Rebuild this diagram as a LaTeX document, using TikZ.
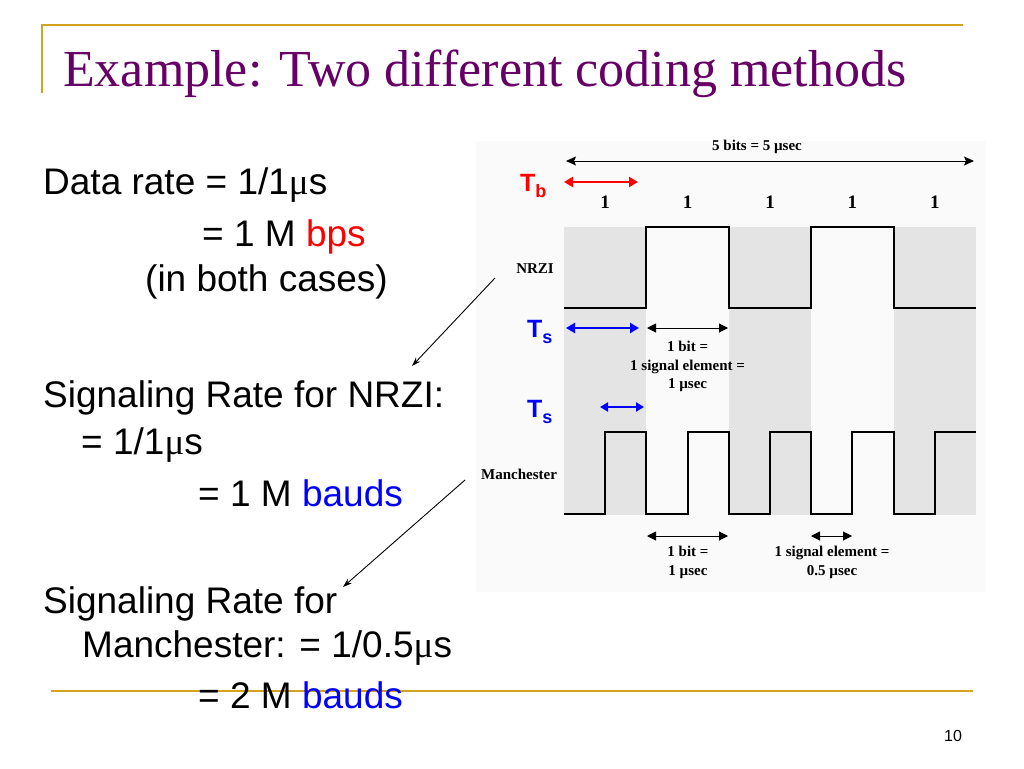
\documentclass[tikz,border=0pt]{standalone}
\usepackage{fontspec}
\setmainfont{Liberation Serif}
\newfontfamily\arialf{Liberation Sans}
\newfontfamily\serff{Liberation Serif}
\usetikzlibrary{arrows.meta}
\definecolor{titlepurple}{RGB}{102,0,102}
\definecolor{goldline}{RGB}{212,162,30}
\definecolor{txtred}{RGB}{255,0,0}
\definecolor{txtblue}{RGB}{0,0,255}
\definecolor{band}{RGB}{228,228,228}
\definecolor{figbg}{RGB}{250,250,250}
\newcommand{\mymu}{{\serff μ}}
\begin{document}
\begin{tikzpicture}[x=1pt,y=-1pt,
  body/.style={font=\arialf\fontsize{37}{37}\selectfont, anchor=base west, inner sep=0pt},
  lab/.style={font=\serff\bfseries\fontsize{15}{15}\selectfont, anchor=base, inner sep=0pt},
  bitlab/.style={font=\serff\bfseries\fontsize{19}{19}\selectfont, anchor=base, inner sep=0pt},
  tsym/.style={font=\arialf\bfseries\fontsize{25}{25}\selectfont, anchor=base west, inner sep=0pt},
  dimarrow/.style={{Triangle[length=9pt,width=9pt]}-{Triangle[length=9pt,width=9pt]}, line width=1pt},
  wave/.style={line width=2pt, line join=miter},
  ptr/.style={-{Stealth[length=9pt,width=6pt]}, line width=0.9pt}
]
\useasboundingbox (0,0) rectangle (1024,768);
\fill[white] (0,0) rectangle (1024,768);

% frame lines
\draw[goldline, line width=2pt] (42,93) -- (42,25) -- (963,25);
\draw[goldline, line width=2pt] (51,691) -- (973,691);

% title
\node[anchor=base west, inner sep=0pt, text=titlepurple, font=\serff\fontsize{52}{52}\selectfont] (title) at (63,86) {Example: Two different coding methods};

% figure background and bands
\fill[figbg] (476,141) rectangle (986,592);
\fill[band] (564,227) rectangle (646.4,515);
\fill[band] (728.8,227) rectangle (811.2,515);
\fill[band] (893.6,227) rectangle (976,515);

% waveforms
\draw[wave] (564,308) -- (646.4,308) -- (646.4,227) -- (728.8,227) -- (728.8,308) -- (811.2,308) -- (811.2,227) -- (893.6,227) -- (893.6,308) -- (976,308);
\draw[wave] (564,514) -- (605.2,514) -- (605.2,432) -- (646.4,432) -- (646.4,514) -- (687.6,514) -- (687.6,432) -- (728.8,432) -- (728.8,514) -- (770,514) -- (770,432) -- (811.2,432) -- (811.2,514) -- (852.4,514) -- (852.4,432) -- (893.6,432) -- (893.6,514) -- (934.8,514) -- (934.8,432) -- (976,432);

% top dimension
\node[lab] (fivebits) at (757,150) {5 bits = 5 µsec};
\coordinate (topL) at (566,161);
\coordinate (topR) at (974,161);
\draw[{Stealth[length=10pt,width=9pt,inset=2pt]}-{Stealth[length=10pt,width=9pt,inset=2pt]}, line width=1pt] (topL) -- (topR);

% Tb
\node[tsym, text=txtred] (tb) at (520,191) {T\raisebox{-6pt}{\fontsize{18}{18}\selectfont b}};
\coordinate (tbL) at (564,182);
\coordinate (tbR) at (638,182);
\draw[txtred, line width=2.5pt, {Triangle[length=9pt,width=10pt]}-{Triangle[length=9pt,width=10pt]}] (tbL) -- (tbR);

% bit labels
\node[bitlab] (b1) at (605.2,208) {1};
\node[bitlab] (b2) at (687.6,208) {1};
\node[bitlab] (b3) at (770,208) {1};
\node[bitlab] (b4) at (852.4,208) {1};
\node[bitlab] (b5) at (934.8,208) {1};

% signal names
\node[lab] (nrzi) at (535,273) {NRZI};
\node[lab] (manch) at (519,479) {Manchester};

% Ts 1
\node[tsym, text=txtblue] (ts1) at (527,337) {T\raisebox{-6pt}{\fontsize{18}{18}\selectfont s}};
\coordinate (ts1L) at (566,328);
\coordinate (ts1R) at (639,328);
\draw[txtblue, line width=2.5pt, {Triangle[length=9pt,width=10pt]}-{Triangle[length=9pt,width=10pt]}] (ts1L) -- (ts1R);
\coordinate (bitAL) at (647,328);
\coordinate (bitAR) at (728,328);
\draw[dimarrow] (bitAL) -- (bitAR);
\node[lab] (bitA1) at (687.6,351) {1 bit =};
\node[lab] (bitA2) at (687.6,370) {1 signal element =};
\node[lab] (bitA3) at (687.6,388) {1 µsec};

% Ts 2
\node[tsym, text=txtblue] (ts2) at (527,417) {T\raisebox{-6pt}{\fontsize{18}{18}\selectfont s}};
\coordinate (ts2L) at (600,407);
\coordinate (ts2R) at (644,407);
\draw[txtblue, line width=2pt, {Triangle[length=8pt,width=9pt]}-{Triangle[length=8pt,width=9pt]}] (ts2L) -- (ts2R);

% bottom dimensions
\coordinate (bitBL) at (647,536);
\coordinate (bitBR) at (728,536);
\draw[dimarrow] (bitBL) -- (bitBR);
\node[lab] (bitB1) at (688,556) {1 bit =};
\node[lab] (bitB2) at (688,575) {1 µsec};
\coordinate (sigL) at (811,536);
\coordinate (sigR) at (852,536);
\draw[dimarrow] (sigL) -- (sigR);
\node[lab] (sig1) at (832,556) {1 signal element =};
\node[lab] (sig2) at (832,575) {0.5 µsec};

% left text
\node[body] (l1) at (43,194) {Data rate = 1/1\mymu s};
\node[body] (l2) at (202,246) {= 1 M \textcolor{txtred}{bps}};
\node[body] (l3) at (145,291) {(in both cases)};
\node[body] (l4) at (43,407) {Signaling Rate for NRZI:};
\node[body] (l5) at (81,454) {= 1/1\mymu s};
\node[body] (l6) at (198,506) {= 1 M \textcolor{txtblue}{bauds}};
\node[body] (l7) at (43,613) {Signaling Rate for};
\node[body] (l8) at (82,657) {Manchester: = 1/0.5\mymu s};
\node[body] (l9) at (198,708) {= 2 M \textcolor{txtblue}{bauds}};

% pointers
\coordinate (p1s) at (495,278);
\coordinate (p1e) at (412,366);
\draw[ptr] (p1s) -- (p1e);
\coordinate (p2s) at (465,480);
\coordinate (p2e) at (343,587);
\draw[ptr] (p2s) -- (p2e);

% page number
\node[anchor=base, inner sep=0pt, font=\arialf\fontsize{16}{16}\selectfont] (pagenum) at (953,741) {10};
\end{tikzpicture}
\end{document}
